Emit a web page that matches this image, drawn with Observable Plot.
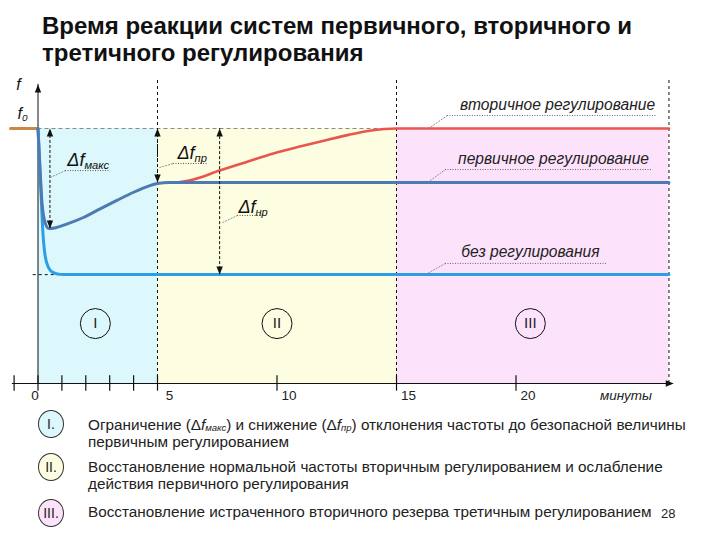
<!DOCTYPE html>
<html><head><meta charset="utf-8">
<script src="https://cdn.jsdelivr.net/npm/d3@7"></script>
<script src="https://cdn.jsdelivr.net/npm/@observablehq/plot@0.6"></script>
<style>
body{margin:0;background:#fff;}
#wrap{position:relative;width:720px;height:540px;overflow:hidden;font-family:"Liberation Sans",Arial,sans-serif;}
#title{position:absolute;left:42px;top:12px;font-weight:bold;font-size:24px;line-height:27px;color:#111;white-space:nowrap;}
#chart{position:absolute;left:0;top:68px;}
.leg{position:absolute;left:88px;font-family:"Liberation Sans Narrow","Arial Narrow","Liberation Sans",sans-serif;font-size:15.3px;line-height:17px;color:#222;white-space:nowrap;}
.leg sub{font-size:9.5px;line-height:0;vertical-align:-1px;}
.ell{position:absolute;left:38px;width:26px;height:28px;border:1px solid #333;border-radius:50%;box-sizing:border-box;text-align:center;line-height:26px;font-family:"Liberation Sans Narrow","Liberation Sans",sans-serif;font-size:14px;color:#222;}
#page{position:absolute;left:661px;top:506px;font-size:13px;color:#222;}
</style></head>
<body><div id="wrap">
<div id="title">Время реакции систем первичного, вторичного и<br>третичного регулирования</div>
<div id="chart"></div>
<div class="ell" style="top:410px;background:#dcf8fc">I.</div>
<div class="ell" style="top:453px;background:#fdfde2">II.</div>
<div class="ell" style="top:499px;background:#fde2fb">III.</div>
<div class="leg" style="top:416px">Ограничение (Δ<i>f</i><sub><i>макс</i></sub>) и снижение (Δ<i>f</i><sub><i>пр</i></sub>) отклонения частоты до безопасной величины</div>
<div class="leg" style="top:433px">первичным регулированием</div>
<div class="leg" style="top:458px">Восстановление нормальной частоты вторичным регулированием и ослабление</div>
<div class="leg" style="top:475px">действия первичного регулирования</div>
<div class="leg" style="top:503px">Восстановление истраченного вторичного резерва третичным регулированием</div>
<div id="page">28</div>
</div>
<script>
// ---- data (x: minutes, y: frequency relative to f0 = 1) ----
const tickMinutes = [-1, 0, 1, 2, 3, 4, 5, 10, 15, 20];
const tickLabelMinutes = [0, 5, 10, 15, 20];
const tickLabels = ["0", "5", "10", "15", "20"];
const axisUnit = "минуты";

const phaseNames = ["I", "II", "III"];
const phaseStart = [0, 5, 15];
const phaseEnd = [5, 15, 26.4];
const phaseLabelT = [2.4, 10.0, 20.6];
const phaseLabelV = [0.235, 0.235, 0.235];

const preT = [-1.15, 0];
const preV = [1, 1];
const noRegT = [0, 0.06, 0.13, 0.2, 0.3, 0.44, 0.6, 0.8, 1.07, 26.4];
const noRegV = [1, 0.88, 0.74, 0.6, 0.5, 0.455, 0.437, 0.43, 0.427, 0.427];
const primT = [0, 0.08, 0.17, 0.31, 0.45, 0.7, 1.2, 1.9, 2.6, 3.3, 4.0, 4.6, 5.0, 5.5, 6.0, 26.4];
const primV = [1, 0.85, 0.706, 0.627, 0.608, 0.61, 0.625, 0.651, 0.685, 0.718, 0.75, 0.773, 0.784, 0.788, 0.788, 0.788];
const secT = [5.8, 6.5, 7.6, 8.7, 9.85, 11.0, 12.0, 13.0, 13.8, 14.5, 15.0, 26.4];
const secV = [0.788, 0.80, 0.835, 0.868, 0.902, 0.93, 0.953, 0.975, 0.99, 0.998, 1.0, 1.0];

const deltaNames = ["Δf_макс", "Δf_пр", "Δf_нр"];
const deltaT = [0.5, 5, 7.6];
const deltaLow = [0.608, 0.788, 0.427];
const deltaLabelT = [2.1, 6.45, 9.0];
const deltaLabelV = [0.875, 0.902, 0.69];
const deltaLineT1 = [1.15, 5.67, 8.35];
const deltaLineT2 = [3.03, 7.09, 9.6];
const deltaLineV = [0.835, 0.863, 0.659];
const deltaLeadT = [0.52, 5.08, 7.72];
const deltaLeadV = [0.808, 0.847, 0.631];

const curveNames = ["вторичное регулирование", "первичное регулирование", "без регулирования"];
const curveLevel = [1, 0.788, 0.427];
const curveLabelT = [21.74, 21.57, 20.6];
const curveLabelV = [1.094, 0.882, 0.514];
const curveLineT1 = [17.13, 17.05, 17.05];
const curveLineT2 = [25.92, 25.71, 23.83];
const curveLineV = [1.051, 0.839, 0.471];
const curveLeadT = [16.34, 16.30, 16.21];

const axisTopV = 1.173, dashTopV = 1.196, xAxisStart = -1.07, xAxisEnd = 26.6;

// ---- styles ----
const phaseFill = ["#dcf8fc", "#fdfde2", "#fde2fb"];

const toPts = (T, V) => T.map((t, i) => ({t, v: V[i]}));
const phases = phaseNames.map((n, i) => ({n, a: phaseStart[i], b: phaseEnd[i], lt: phaseLabelT[i], lv: phaseLabelV[i], fill: phaseFill[i]}));
const deltas = deltaNames.map((n, i) => ({n, t: deltaT[i], lo: deltaLow[i], lt: deltaLabelT[i], lv: deltaLabelV[i], u1: deltaLineT1[i], u2: deltaLineT2[i], uv: deltaLineV[i], kt: deltaLeadT[i], kv: deltaLeadV[i]}));
const curves = curveNames.map((n, i) => ({n, lev: curveLevel[i], lt: curveLabelT[i], lv: curveLabelV[i], u1: curveLineT1[i], u2: curveLineT2[i], uv: curveLineV[i], kt: curveLeadT[i]}));

const upTri = {draw(c){ c.moveTo(0,0); c.lineTo(-3.2,8); c.lineTo(3.2,8); c.closePath(); }};
const downTri = {draw(c){ c.moveTo(0,0); c.lineTo(-3.2,-8); c.lineTo(3.2,-8); c.closePath(); }};
const rightTri = {draw(c){ c.moveTo(0,0); c.lineTo(-8,-3.2); c.lineTo(-8,3.2); c.closePath(); }};

const svg = Plot.plot({
  width: 720, height: 340, margin: 0,
  x: {type: "linear", domain: [0, 20], range: [37.5, 515.5], axis: null},
  y: {type: "linear", domain: [0, 1], range: [315, 60], axis: null},
  color: {type: "identity"},
  style: {fontFamily: "Liberation Sans, Arial, sans-serif", background: "transparent", overflow: "visible", color: "#111"},
  marks: [
    Plot.rect(phases, {x1: "a", x2: "b", y1: 0, y2: 1, fill: "fill"}),
    Plot.ruleY([1], {x1: 0, x2: phaseEnd[2], stroke: "#8a8a8a", strokeDasharray: "4,3", strokeWidth: 1}),
    Plot.ruleY([curveLevel[2]], {x1: -0.2, x2: 1.0, stroke: "#111", strokeDasharray: "3,3", strokeWidth: 1}),
    Plot.ruleX([5, 15, phaseEnd[2]], {y1: 0, y2: dashTopV, stroke: "#111", strokeDasharray: "3,3", strokeWidth: 1}),
    // axes
    Plot.ruleX([0], {y1: 0, y2: axisTopV, stroke: "#111", strokeWidth: 1}),
    Plot.dot([0], {x: d => d, y: axisTopV, symbol: upTri, fill: "#111", stroke: null}),
    Plot.ruleY([0], {x1: xAxisStart, x2: xAxisEnd - 0.2, stroke: "#111", strokeWidth: 1.2}),
    Plot.dot([0], {x: xAxisEnd, y: 0, symbol: rightTri, fill: "#111", stroke: null}),
    Plot.ruleX(tickMinutes, {y1: -0.03, y2: 0.03, stroke: "#111", strokeWidth: 1.2}),
    Plot.text(tickLabels.slice(0, 1), {x: tickLabelMinutes[0], y: -0.047, text: d => d, dx: -3, fontSize: 13.5, fill: "#222"}),
    Plot.text(tickLabels.slice(1), {x: (d, i) => tickLabelMinutes[i + 1], y: -0.047, text: d => d, dx: 12, fontSize: 13.5, fill: "#222"}),
    Plot.text([axisUnit], {x: 24.6, y: -0.047, text: d => d, fontSize: 13.5, fontStyle: "italic", fill: "#222"}),
    Plot.text(["f"], {x: -0.82, y: axisTopV, text: d => d, fontSize: 16, fontStyle: "italic", fill: "#111"}),
    Plot.text(["f_0"], {x: -0.65, y: 1.059, text: d => d, fontSize: 16, fontStyle: "italic", fill: "#111"}),
    // curves
    Plot.line(toPts(preT, preV), {x: "t", y: "v", stroke: "#c68a45", strokeWidth: 3}),
    Plot.line(toPts(noRegT, noRegV), {x: "t", y: "v", stroke: "#2d9de5", strokeWidth: 3, curve: "monotone-x"}),
    Plot.line(toPts(secT, secV), {x: "t", y: "v", stroke: "#e8564c", strokeWidth: 2.6, curve: "monotone-x"}),
    Plot.line(toPts(primT, primV), {x: "t", y: "v", stroke: "#4d7ab3", strokeWidth: 3, curve: "monotone-x"}),
    // delta arrows
    Plot.ruleX(deltas, {x: "t", y1: "lo", y2: 1, stroke: "#111", strokeDasharray: "3,2", strokeWidth: 1}),
    Plot.dot(deltas, {x: "t", y: 1, symbol: upTri, fill: "#111", stroke: null}),
    Plot.dot(deltas, {x: "t", y: "lo", symbol: downTri, fill: "#111", stroke: null}),
    Plot.link(deltas, {x1: "kt", y1: "kv", x2: "u1", y2: "uv", stroke: "#888", strokeWidth: 0.9, strokeDasharray: "2,1"}),
    Plot.ruleY(deltas, {y: "uv", x1: "u1", x2: "u2", stroke: "#555", strokeWidth: 1, strokeDasharray: "1,1.5"}),
    Plot.text(deltas, {x: "lt", y: "lv", text: "n", fontSize: 18, fontStyle: "italic", fill: "#111"}),
    // curve labels
    Plot.link(curves, {x1: "kt", y1: "lev", x2: "u1", y2: "uv", stroke: "#888", strokeWidth: 0.9, strokeDasharray: "2,1"}),
    Plot.ruleY(curves, {y: "uv", x1: "u1", x2: "u2", stroke: "#666", strokeWidth: 1, strokeDasharray: "1,1.5"}),
    Plot.text(curves, {x: "lt", y: "lv", text: "n", fontSize: 15.6, fontStyle: "italic", fill: "#222"}),
    // phase circles
    Plot.dot(phases, {x: "lt", y: "lv", r: 15, stroke: "#111", strokeWidth: 1, fill: "none"}),
    Plot.text(phases, {x: "lt", y: "lv", text: "n", fontSize: 15, fill: "#222"})
  ]
});

// subscripts: "X_sub"
d3.select(svg).selectAll("text").each(function() {
  const el = this;
  const targets = el.querySelectorAll("tspan").length ? Array.from(el.querySelectorAll("tspan")) : [el];
  targets.forEach(node => {
    const s = node.textContent;
    if (!s.includes("_")) return;
    const [main, sub] = s.split("_");
    node.textContent = "";
    const ns = "http://www.w3.org/2000/svg";
    const t1 = document.createElementNS(ns, "tspan"); t1.textContent = main;
    const t2 = document.createElementNS(ns, "tspan"); t2.textContent = sub;
    t2.setAttribute("font-size", "0.62em"); t2.setAttribute("dy", "0.25em");
    node.appendChild(t1); node.appendChild(t2);
  });
});
document.getElementById("chart").appendChild(svg);
</script>
</body></html>
